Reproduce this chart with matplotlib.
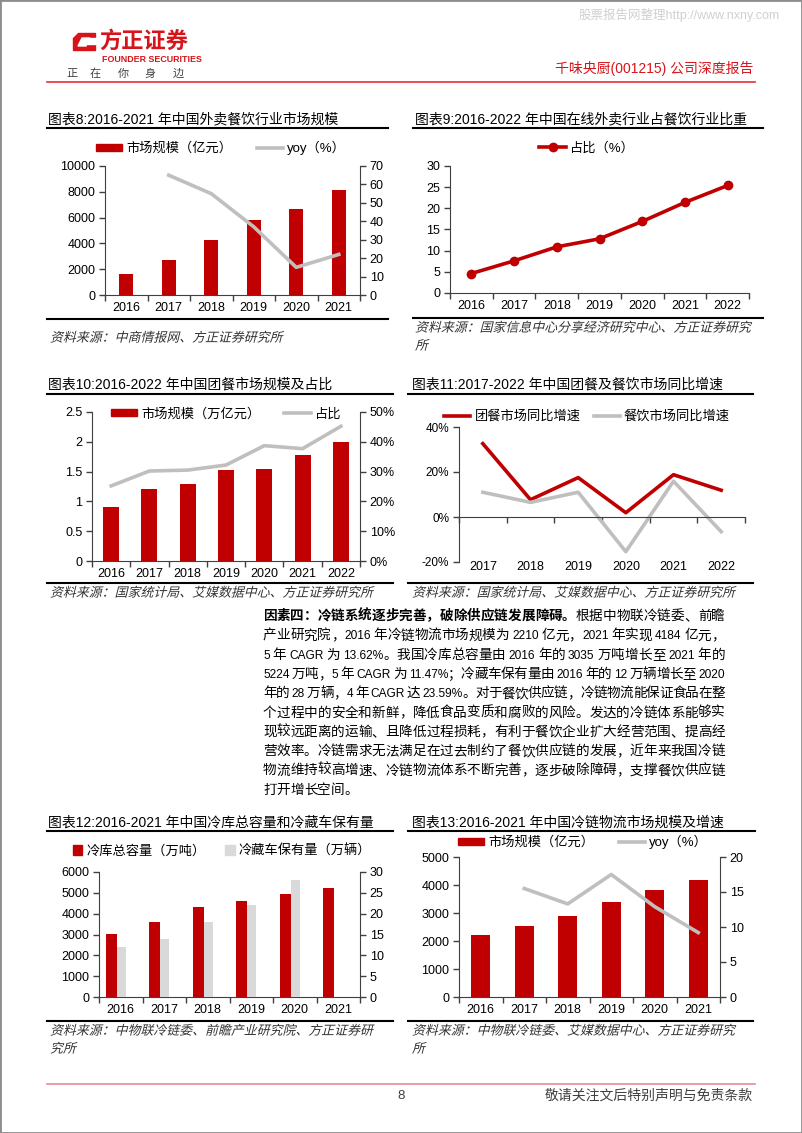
import numpy as np
import matplotlib
matplotlib.use('Agg')
import matplotlib.pyplot as plt
from matplotlib import font_manager
from matplotlib.font_manager import FontProperties
from matplotlib.lines import Line2D
from matplotlib.patches import Rectangle, Polygon, Patch, PathPatch
from matplotlib.textpath import TextPath
from matplotlib.transforms import blended_transform_factory, Affine2D, IdentityTransform

W, H = 802, 1133
RED = '#C00000'
GRAY = '#BFBFBF'
LGRAY = '#D9D9D9'
AX = '#404040'

plt.rcParams['font.family'] = ['Liberation Sans', 'Noto Sans CJK SC']
plt.rcParams['axes.unicode_minus'] = False

# ---- data ----
years_16_21 = ['2016', '2017', '2018', '2019', '2020', '2021']
years_16_22 = ['2016', '2017', '2018', '2019', '2020', '2021', '2022']
years_17_22 = ['2017', '2018', '2019', '2020', '2021', '2022']

# chart 8: takeaway catering market size (亿元) and yoy (%)
waimai_size = [1660, 2750, 4250, 5800, 6650, 8150]
waimai_yoy = [np.nan, 65, 55, 37, 15, 22]

# chart 9: online takeaway share of catering (%)
waimai_share = [4.6, 7.6, 10.9, 12.8, 16.9, 21.4, 25.4]

# chart 10: group meal market size (万亿元) and share
tuancan_size = [0.91, 1.21, 1.29, 1.52, 1.54, 1.78, 2.0]
tuancan_share = [25.2, 30.2, 30.5, 32.2, 38.7, 37.7, 45.2]

# chart 11: yoy growth (%)
tuancan_yoy = [32.6, 7.7, 17.5, 1.9, 18.8, 11.9]
canyin_yoy = [11.0, 6.5, 11.0, -15.4, 15.9, -6.5]

# chart 12: cold storage capacity (万吨) and refrigerated trucks (万辆)
cold_storage = [3035, 3615, 4315, 4605, 4955, 5224]
cold_trucks = [12, 14, 18, 22, 28, np.nan]

# chart 13: cold chain logistics market (亿元) and yoy (%)
coldchain_size = [2210, 2550, 2890, 3400, 3830, 4184]
coldchain_yoy = [np.nan, 15.5, 13.3, 17.5, 12.9, 9.2]

body_bold = '因素四：冷链系统逐步完善，破除供应链发展障碍。'
body_lines = [
    '根据中物联冷链委、前瞻',
    '产业研究院，2016 年冷链物流市场规模为 2210 亿元，2021 年实现 4184 亿元，',
    '5 年 CAGR 为 13.62%。我国冷库总容量由 2016 年的 3035 万吨增长至 2021 年的',
    '5224 万吨，5 年 CAGR 为 11.47%；冷藏车保有量由 2016 年的 12 万辆增长至 2020',
    '年的 28 万辆，4 年 CAGR 达 23.59%。对于餐饮供应链，冷链物流能保证食品在整',
    '个过程中的安全和新鲜，降低食品变质和腐败的风险。发达的冷链体系能够实',
    '现较远距离的运输、且降低过程损耗，有利于餐饮企业扩大经营范围、提高经',
    '营效率。冷链需求无法满足在过去制约了餐饮供应链的发展，近年来我国冷链',
    '物流维持较高增速、冷链物流体系不断完善，逐步破除障碍，支撑餐饮供应链',
    '打开增长空间。',
]

fig = plt.figure(figsize=(W / 100, H / 100), dpi=100)
r = fig.canvas.get_renderer()


def fx(x):
    return x / W


def fy(y):
    return 1 - y / H


def add_ax(l, t, r_, b):
    return fig.add_axes([fx(l), fy(b), (r_ - l) / W, (b - t) / H])


def txt(x, y, s, **kw):
    kw.setdefault('va', 'center')
    return fig.text(fx(x), fy(y), s, **kw)


def hline(x0, x1, y, color='black', lw=1.2):
    fig.add_artist(Line2D([fx(x0), fx(x1)], [fy(y), fy(y)], color=color, lw=lw))


def style(ax, labels, show_labels=True):
    n = len(labels)
    ax.set_xlim(-0.5, n - 0.5)
    ax.set_xticks([i - 0.5 for i in range(n + 1)])
    ax.set_xticklabels([])
    ax.set_xticks(range(n), minor=True)
    if show_labels:
        ax.set_xticklabels(labels, minor=True, fontsize=9)
    else:
        ax.set_xticklabels([], minor=True)
    ax.tick_params(axis='x', which='major', length=4, direction='out', color=AX, width=1)
    ax.tick_params(axis='x', which='minor', length=0, pad=5)
    ax.tick_params(axis='y', length=4, color=AX, labelsize=9, pad=3, width=1)
    for s in ['top', 'right']:
        ax.spines[s].set_visible(False)
    for s in ['left', 'bottom']:
        ax.spines[s].set_color(AX)
    ax.patch.set_alpha(0)


def style_right(ax2):
    for s in ['top', 'left', 'bottom']:
        ax2.spines[s].set_visible(False)
    ax2.spines['right'].set_color(AX)
    ax2.tick_params(axis='y', length=4, color=AX, labelsize=9, pad=3, width=1)


def legend(ax, handles, labels, cx, cy, **kw):
    ax.legend(handles, labels, loc='center', bbox_to_anchor=(fx(cx), fy(cy)),
              bbox_transform=fig.transFigure, ncol=len(handles), frameon=False,
              fontsize=9.5, borderaxespad=0, **kw)


SRC_FP = FontProperties(family='Noto Sans CJK SC')


def source(x, y, lines):
    # italic look: draw the glyph outlines with a slant
    size = 9.3 * 100 / 72
    for i, s in enumerate(lines):
        yy = y + i * 18
        p = TextPath((0, 0), s, size=size, prop=SRC_FP)
        tr = Affine2D().skew_deg(14, 0).translate(x, H - yy - 0.36 * size) + IdentityTransform()
        fig.add_artist(PathPatch(p, transform=tr, facecolor='#333333', edgecolor='none', lw=0))


# ---- header ----
fig.add_artist(Rectangle((0, 0), 1, 1, transform=fig.transFigure, fill=False,
                         edgecolor='#8c8c8c', lw=2))
txt(780, 15, '股票报告网整理http://www.nxny.com', fontsize=9, color='#d0d0d0', ha='right')
logo_outer = Polygon([(fx(78), fy(33)), (fx(95), fy(33)), (fx(95), fy(50)),
                      (fx(73), fy(50)), (fx(73), fy(38))], closed=True,
                     transform=fig.transFigure, color='#D7141A')
logo_inner = Polygon([(fx(82), fy(38)), (fx(90), fy(38)), (fx(86), fy(46)),
                      (fx(78), fy(46))], closed=True,
                     transform=fig.transFigure, color='white')
logo_cut = Polygon([(fx(90), fy(38)), (fx(96), fy(38)), (fx(96), fy(44)), (fx(87), fy(44))],
                   closed=True, transform=fig.transFigure, color='white')
fig.add_artist(logo_outer)
fig.add_artist(logo_inner)
fig.add_artist(logo_cut)
txt(99, 42, '方正证券', fontsize=16, color='#D7141A', fontweight='bold')
txt(102, 59.5, 'FOUNDER SECURITIES', fontsize=6.4, color='#D7141A', fontweight='bold')
for xc, ch in zip([72, 95, 123, 150, 178], '正在你身边'):
    txt(xc, 74, ch, fontsize=8, color='#404040', ha='center')
txt(753, 69, '千味央厨(001215) 公司深度报告', fontsize=10, color='#D7141A', ha='right')
hline(47, 755, 82, color='#E0303A', lw=1.2)

# ---- chart 8 ----
txt(48, 119, '图表8:2016-2021 年中国外卖餐饮行业市场规模', fontsize=10)
hline(47, 388, 128, lw=1.5)
ax8 = add_ax(105, 166, 360, 295)
ax8.bar(range(6), waimai_size, width=0.33, color=RED)
ax8.set_ylim(0, 10000)
ax8.set_yticks(range(0, 10001, 2000))
style(ax8, years_16_21)
ax8b = ax8.twinx()
ax8b.plot(range(6), waimai_yoy, color=GRAY, lw=2.6)
ax8b.set_ylim(0, 70)
ax8b.set_yticks(range(0, 71, 10))
style_right(ax8b)
legend(ax8b, [Patch(color=RED), Line2D([], [], color=GRAY, lw=2.6)],
       ['市场规模（亿元）', 'yoy（%）'], 221, 148, handlelength=2.0,
       handleheight=0.45, columnspacing=1.9, handletextpad=0.3)
hline(47, 388, 319, lw=1.5)
source(50, 337, ['资料来源：中商情报网、方正证券研究所'])

# ---- chart 9 ----
txt(415, 119, '图表9:2016-2022 年中国在线外卖行业占餐饮行业比重', fontsize=10)
hline(413, 763, 128, lw=1.5)
ax9 = add_ax(450, 166, 749, 293)
l9, = ax9.plot(range(7), waimai_share, color=RED, lw=2.6, marker='o', markersize=6)
ax9.set_ylim(0, 30)
ax9.set_yticks(range(0, 31, 5))
style(ax9, years_16_22)
legend(ax9, [l9], ['占比（%）'], 587, 148, handlelength=2.0, handletextpad=0.3)
hline(413, 763, 318, lw=1.5)
source(415, 327, ['资料来源：国家信息中心分享经济研究中心、方正证券研究', '所'])

# ---- chart 10 ----
txt(48, 385, '图表10:2016-2022 年中国团餐市场规模及占比', fontsize=10)
hline(47, 393, 394, lw=1.5)
ax10 = add_ax(92, 412, 360, 561)
ax10.bar(range(7), tuancan_size, width=0.42, color=RED)
ax10.set_ylim(0, 2.5)
ax10.set_yticks([0, 0.5, 1, 1.5, 2, 2.5])
ax10.set_yticklabels(['0', '0.5', '1', '1.5', '2', '2.5'])
style(ax10, years_16_22)
ax10b = ax10.twinx()
ax10b.plot(range(7), tuancan_share, color=GRAY, lw=2.6)
ax10b.set_ylim(0, 50)
ax10b.set_yticks(range(0, 51, 10))
ax10b.set_yticklabels([f'{v}%' for v in range(0, 51, 10)])
style_right(ax10b)
legend(ax10b, [Patch(color=RED), Line2D([], [], color=GRAY, lw=2.6)],
       ['市场规模（万亿元）', '占比'], 226, 414, handlelength=2.0,
       handleheight=0.45, columnspacing=1.8, handletextpad=0.3)
hline(47, 393, 583, lw=1.5)
source(50, 592, ['资料来源：国家统计局、艾媒数据中心、方正证券研究所'])

# ---- chart 11 ----
txt(412, 385, '图表11:2017-2022 年中国团餐及餐饮市场同比增速', fontsize=10)
hline(408, 753, 394, lw=1.5)
ax11 = add_ax(459, 427, 745, 562)
r11, = ax11.plot(range(6), tuancan_yoy, color=RED, lw=2.6)
g11, = ax11.plot(range(6), canyin_yoy, color=GRAY, lw=2.6)
ax11.set_ylim(-20, 40)
ax11.set_yticks([-20, 0, 20, 40])
ax11.set_yticklabels(['-20%', '0%', '20%', '40%'])
style(ax11, years_17_22, show_labels=False)
ax11.tick_params(axis='y', labelsize=8.5)
ax11.spines['bottom'].set_position(('data', 0))
tr11 = blended_transform_factory(ax11.transData, ax11.transAxes)
for i, y in enumerate(years_17_22):
    ax11.text(i, -0.04, y, transform=tr11, ha='center', va='center', fontsize=9)
legend(ax11, [r11, g11], ['团餐市场同比增速', '餐饮市场同比增速'], 587, 417,
       handlelength=2.0, columnspacing=1.0, handletextpad=0.3)
hline(408, 753, 583, lw=1.5)
source(412, 592, ['资料来源：国家统计局、艾媒数据中心、方正证券研究所'])

# ---- body text (justified between X0 and X1) ----
avail = {f.name for f in font_manager.fontManager.ttflist}
if 'Liberation Sans Narrow' in avail:
    LATIN, LATIN_FS = 'Liberation Sans Narrow', 9.8
else:
    LATIN, LATIN_FS = 'Liberation Sans', 8.6
BODY_FS = 9.8
EM = BODY_FS * 100 / 72
SPACE = 3.0
X0, X1 = 263, 725


def tokens(s, bold):
    out = []
    run = ''
    for ch in s:
        if ch.isascii() and ch != ' ':
            run += ch
            continue
        if run:
            out.append(('L', run, bold))
            run = ''
        out.append(('S' if ch == ' ' else 'C', ch, bold))
    if run:
        out.append(('L', run, bold))
    return out


def body_line(y, toks, justify=True):
    items = []
    for kind, s, bold in toks:
        w = fw = 'bold' if bold else 'normal'
        if kind == 'C':
            t = fig.text(0, fy(y + 5), s, fontsize=BODY_FS, family=['Noto Sans CJK SC'],
                         fontweight=fw, va='baseline')
            w = EM
        elif kind == 'L':
            t = fig.text(0, fy(y + 5), s, fontsize=LATIN_FS, family=[LATIN],
                         fontweight=fw, va='baseline')
            w = t.get_window_extent(renderer=r).width
        else:
            t, w = None, SPACE
        items.append((t, w))
    total = sum(w for _, w in items)
    gap = (X1 - X0 - total) / (len(items) - 1) if justify and len(items) > 1 else 0
    x = X0
    for t, w in items:
        if t is not None:
            t.set_x(fx(x))
        x += w + gap


body_line(615, tokens(body_bold, True) + tokens(body_lines[0], False))
for i, line in enumerate(body_lines[1:], start=1):
    body_line(615 + i * 19.3, tokens(line, False), justify=(i < len(body_lines) - 1))

# ---- chart 12 ----
txt(48, 823, '图表12:2016-2021 年中国冷库总容量和冷藏车保有量', fontsize=10)
hline(47, 393, 831, lw=1.5)
ax12 = add_ax(99, 872, 360, 997)
ax12.bar(np.arange(6) - 0.22, cold_storage, width=0.25, color=RED)
ax12.set_ylim(0, 6000)
ax12.set_yticks(range(0, 6001, 1000))
style(ax12, years_16_21)
ax12b = ax12.twinx()
ax12b.bar(np.arange(6) + 0.01, cold_trucks, width=0.2, color=LGRAY)
ax12b.set_ylim(0, 30)
ax12b.set_yticks(range(0, 31, 5))
style_right(ax12b)
legend(ax12b, [Patch(color=RED), Patch(color=LGRAY)],
       ['冷库总容量（万吨）', '冷藏车保有量（万辆）'], 222, 851, handlelength=0.7,
       handleheight=0.7, columnspacing=1.5, handletextpad=0.3)
hline(47, 393, 1021, lw=1.5)
source(50, 1030, ['资料来源：中物联冷链委、前瞻产业研究院、方正证券研', '究所'])

# ---- chart 13 ----
txt(412, 823, '图表13:2016-2021 年中国冷链物流市场规模及增速', fontsize=10)
hline(408, 755, 831, lw=1.5)
ax13 = add_ax(459, 857, 720, 997)
ax13.bar(range(6), coldchain_size, width=0.44, color=RED)
ax13.set_ylim(0, 5000)
ax13.set_yticks(range(0, 5001, 1000))
style(ax13, years_16_21)
ax13b = ax13.twinx()
ax13b.plot(range(6), coldchain_yoy, color=GRAY, lw=2.6)
ax13b.set_ylim(0, 20)
ax13b.set_yticks(range(0, 21, 5))
style_right(ax13b)
legend(ax13b, [Patch(color=RED), Line2D([], [], color=GRAY, lw=2.6)],
       ['市场规模（亿元）', 'yoy（%）'], 583, 842, handlelength=2.0,
       handleheight=0.45, columnspacing=1.9, handletextpad=0.3)
hline(408, 753, 1021, lw=1.5)
source(412, 1030, ['资料来源：中物联冷链委、艾媒数据中心、方正证券研究', '所'])

# ---- footer ----
hline(47, 755, 1084, color='#E8899A', lw=1.2)
txt(401, 1096, '8', fontsize=9.5, color='#404040', ha='center')
txt(753, 1096, '敬请关注文后特别声明与免责条款', fontsize=10, color='#404040', ha='right')

fig.savefig('out.png', dpi=100)
